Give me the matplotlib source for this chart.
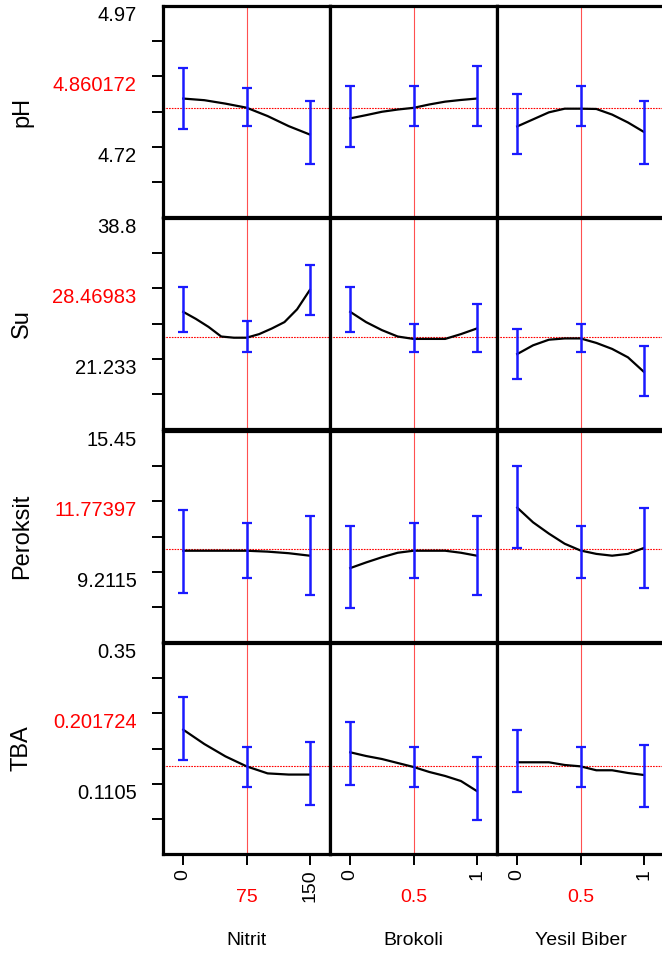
import numpy as np
import matplotlib
matplotlib.use('Agg')
import matplotlib.pyplot as plt

# factors (columns)
factors = ['Nitrit', 'Brokoli', 'Yesil Biber']
factor_levels = [[0, 75, 150], [0, 0.5, 1], [0, 0.5, 1]]
factor_current = [75, 0.5, 0.5]
nitrit_grid = [0, 25, 50, 75, 100, 125, 150]
nitrit_grid_su = [0, 15, 30, 45, 60, 75, 90, 105, 120, 135, 150]
unit_grid = [0, 0.125, 0.25, 0.375, 0.5, 0.625, 0.75, 0.875, 1]

# responses (rows)
responses = ['pH', 'Su', 'Peroksit', 'TBA']
axis_top = [4.97, 38.8, 15.45, 0.35]
axis_low_label = [4.72, 21.233, 9.2115, 0.1105]
current_text = ['4.860172', '28.46983', '11.77397', '0.201724']
current_y = [4.789, 23.88, 10.22, 0.1406]

# pH
ph_nitrit = [4.8055, 4.8026, 4.7965, 4.7893, 4.7744, 4.7565, 4.7416]
ph_brokoli = [4.7703, 4.776, 4.782, 4.786, 4.789, 4.795, 4.800, 4.803, 4.8055]
ph_biber = [4.7560, 4.7685, 4.781, 4.7875, 4.7875, 4.7870, 4.777, 4.763, 4.7463]
ph_lo = [[4.7516, 4.7560, 4.6888], [4.7201, 4.7560, 4.7560], [4.7063, 4.7560, 4.6888]]
ph_hi = [[4.8593, 4.8234, 4.8019], [4.8270, 4.8283, 4.8636], [4.8144, 4.8283, 4.8019]]

# Su
su_nitrit = [27.08, 26.2, 25.2, 24.0, 23.85, 23.85, 24.3, 25.0, 25.8, 27.4, 29.8]
su_brokoli = [27.08, 25.8, 24.8, 24.0, 23.7, 23.7, 23.7, 24.3, 25.0]
su_biber = [21.81, 22.9, 23.6, 23.76, 23.76, 23.2, 22.45, 21.4, 19.6]
su_lo = [[24.59, 22.06, 26.74], [24.59, 22.11, 22.11], [18.70, 22.11, 16.55]]
su_hi = [[30.19, 25.91, 32.96], [30.19, 25.59, 28.02], [24.97, 25.54, 22.77]]

# Peroksit
per_nitrit = [10.14, 10.14, 10.14, 10.14, 10.10, 10.03, 9.92]
per_brokoli = [9.37, 9.62, 9.85, 10.05, 10.14, 10.14, 10.14, 10.05, 9.92]
per_biber = [12.05, 11.40, 10.90, 10.45, 10.15, 10.0, 9.92, 10.0, 10.26]
per_lo = [[8.265, 8.931, 8.177], [7.600, 8.931, 8.164], [10.261, 8.931, 8.474]]
per_hi = [[11.946, 11.370, 11.694], [11.250, 11.370, 11.694], [13.898, 11.250, 12.022]]

# TBA
tba_nitrit = [0.2024, 0.178, 0.157, 0.140, 0.128, 0.126, 0.126]
tba_brokoli = [0.1639, 0.1576, 0.1525, 0.1457, 0.1389, 0.1304, 0.1236, 0.1150, 0.0980]
tba_biber = [0.1469, 0.1469, 0.1469, 0.1423, 0.1400, 0.1333, 0.1333, 0.1287, 0.1253]
tba_lo = [[0.1508, 0.1043, 0.0747], [0.1082, 0.1043, 0.0486], [0.0958, 0.1043, 0.0703]]
tba_hi = [[0.2576, 0.1724, 0.1809], [0.2150, 0.1724, 0.1559], [0.2019, 0.1724, 0.1758]]

curves = [
    [(nitrit_grid, ph_nitrit), (unit_grid, ph_brokoli), (unit_grid, ph_biber)],
    [(nitrit_grid_su, su_nitrit), (unit_grid, su_brokoli), (unit_grid, su_biber)],
    [(nitrit_grid, per_nitrit), (unit_grid, per_brokoli), (unit_grid, per_biber)],
    [(nitrit_grid, tba_nitrit), (unit_grid, tba_brokoli), (unit_grid, tba_biber)],
]
err_lo = [ph_lo, su_lo, per_lo, tba_lo]
err_hi = [ph_hi, su_hi, per_hi, tba_hi]

W, H = 662, 959
plt.rcParams['font.family'] = ['Liberation Sans', 'DejaVu Sans']

fig = plt.figure(figsize=(W / 100, H / 100), dpi=100)


def px_box(left, top, width, height):
    return [left / W, 1 - (top + height) / H, width / W, height / H]


col_left = [163, 330, 497]
col_w = 167
row_top = [6, 218, 431, 643]
row_h = 211
blue = '#1a1aff'

for i, resp in enumerate(responses):
    top = axis_top[i]
    step = (top - axis_low_label[i]) / 4
    for j, fac in enumerate(factors):
        ax = fig.add_axes(px_box(col_left[j], row_top[i], col_w, row_h))
        lv = factor_levels[j]
        m = 0.16 * (lv[-1] - lv[0])
        ax.set_xlim(lv[0] - m, lv[-1] + m)
        ax.set_ylim(top - 6 * step, top)
        for s in ax.spines.values():
            s.set_linewidth(2.3)
            s.set_color('black')

        ax.axvline(factor_current[j], color='#ff5050', lw=0.8, zorder=1)
        ax.axhline(current_y[i], color='red', lw=0.8, ls=(0, (1.5, 1)), zorder=1)

        xs, ys = curves[i][j]
        ax.plot(xs, ys, color='black', lw=1.6, zorder=3)
        lo = np.array(err_lo[i][j])
        hi = np.array(err_hi[i][j])
        ax.errorbar(lv, (lo + hi) / 2, yerr=(hi - lo) / 2, fmt='none',
                    ecolor=blue, elinewidth=1.8, capsize=3.5, capthick=1.6, zorder=4)

        if j == 0:
            ticks = [top - k * step for k in range(6)]
            labels = ['' for _ in ticks]
            labels[0] = f'{top:g}'
            labels[2] = current_text[i]
            labels[4] = f'{axis_low_label[i]:g}'
            ax.set_yticks(ticks)
            ax.set_yticklabels(labels, va='top', fontsize=14.5)
            ax.get_yticklabels()[2].set_color('red')
            ax.tick_params(axis='y', length=8, width=1.4, pad=11)
            ax.yaxis.get_major_ticks()[0].tick1line.set_visible(False)
        else:
            ax.set_yticks([])

        if i == len(responses) - 1:
            ax.set_xticks(lv)
            ax.set_xticklabels([f'{lv[0]:g}', '', f'{lv[-1]:g}'], rotation=90,
                               va='top', ha='center', fontsize=14)
            ax.tick_params(axis='x', length=8, width=1.4, pad=3)
            ax.text(factor_current[j], -0.205, f'{factor_current[j]:g}',
                    transform=ax.get_xaxis_transform(), color='red',
                    ha='center', va='center', fontsize=14)
            ax.text(factor_current[j], -0.41, fac,
                    transform=ax.get_xaxis_transform(),
                    ha='center', va='center', fontsize=14)
        else:
            ax.set_xticks([])

    fig.text(22 / W, 1 - (row_top[i] + row_h / 2) / H, resp, rotation=90,
             ha='center', va='center', fontsize=17)

fig.savefig('out.png', dpi=100)
